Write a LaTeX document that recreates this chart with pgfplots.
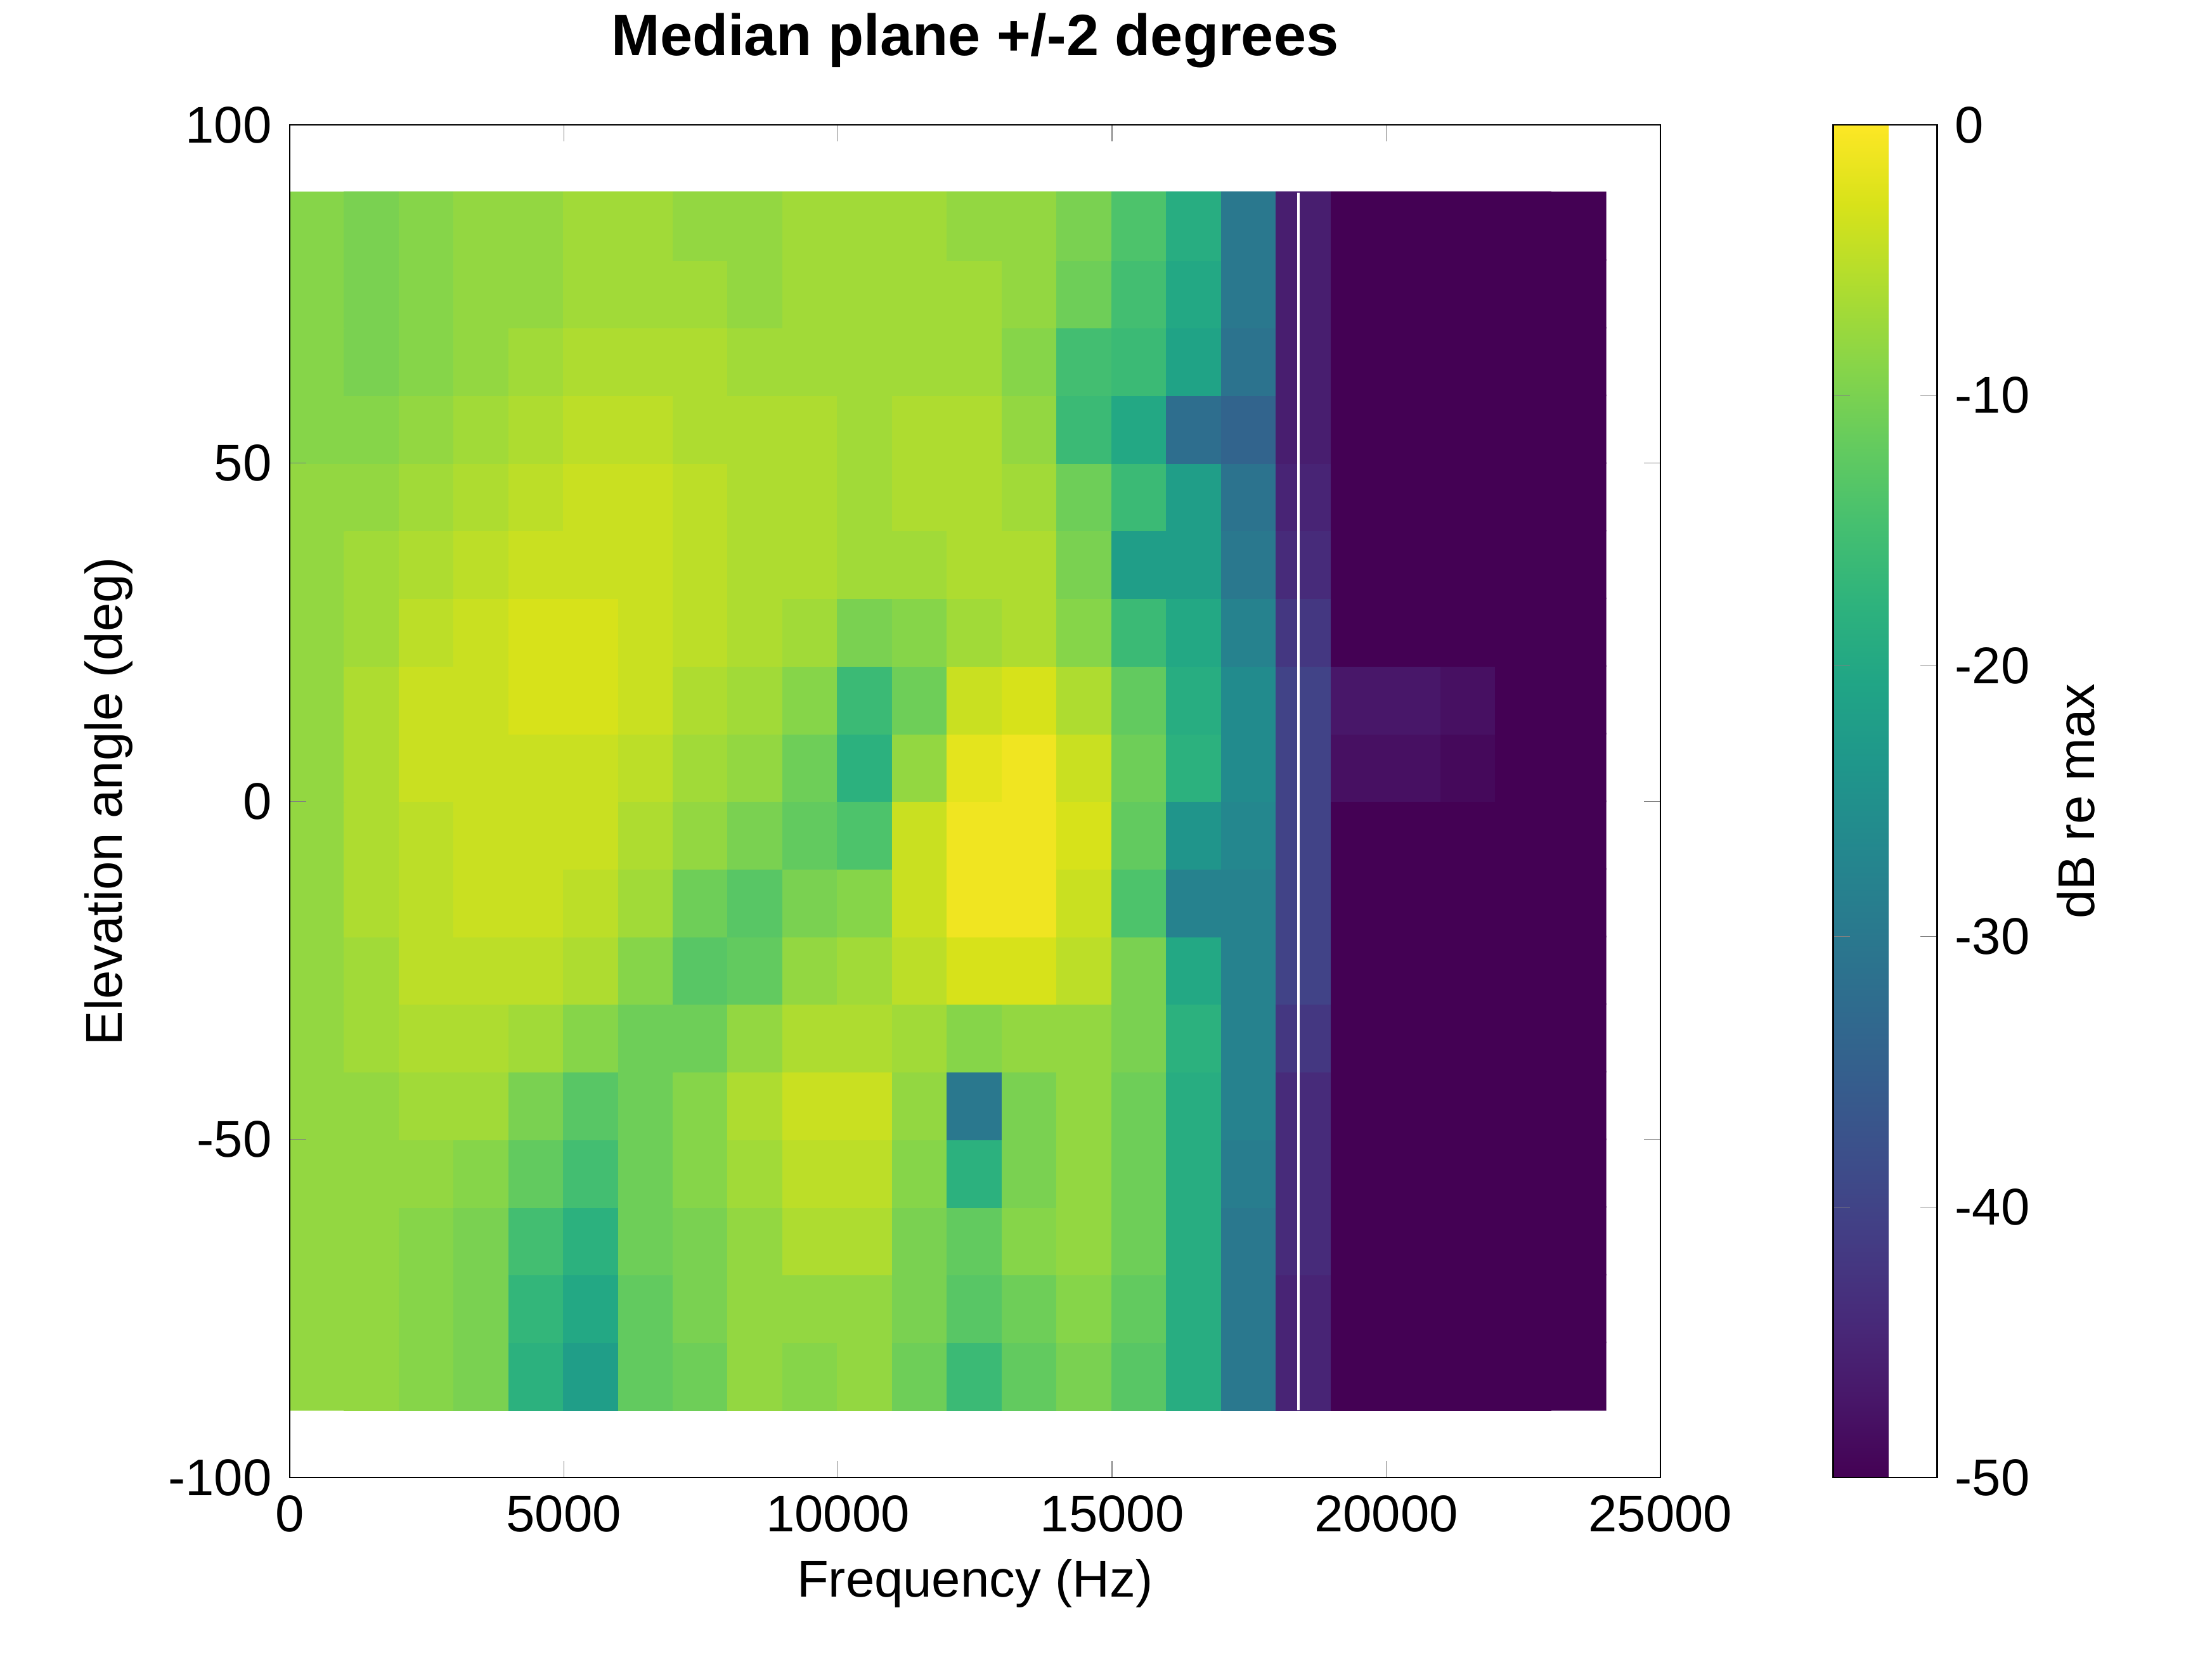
\documentclass[border=0pt]{standalone}
\usepackage{pgfplots}
\pgfplotsset{compat=1.18}
\usepackage{fontspec}
\setmainfont{Liberation Sans}
\usepgfplotslibrary{colormaps}
\begin{document}
\fontsize{13.3}{16}\selectfont
\begin{tikzpicture}
\path[use as bounding box] (-2.62,-1.645) rectangle (17.39,13.37);
\begin{axis}[at={(0,0)},anchor=south west,scale only axis,width=12.40cm,height=12.24cm,
 xmin=0,xmax=25000,ymin=-100,ymax=100,
 xtick={0,5000,10000,15000,20000,25000},ytick={-100,-50,0,50,100},
 scaled x ticks=false,
 /pgf/number format/set thousands separator={},
 /pgf/number format/assume math mode=true,
 tick align=inside, tick pos=both,
 xlabel={Frequency (Hz)}, ylabel={Elevation angle (deg)},
 xlabel style={yshift=2pt}, ylabel style={yshift=0pt},
 title={\fontsize{15}{18}\selectfont\textbf{Median plane +/-2 degrees}}, title style={yshift=4pt},
 colormap name=viridis, point meta min=-50, point meta max=0,
 colorbar, colorbar style={at={(1.126,1)},anchor=north west,width=0.94cm,
   ytick={-50,-40,-30,-20,-10,0}, ylabel={dB re max}, tick align=inside,
   /pgf/number format/assume math mode=true, ylabel style={yshift=2pt}},
 axis on top]
\addplot[matrix plot*, mesh/cols=24, point meta=explicit] table[meta=c] {
x y c
500 -85 -8
1500 -85 -8
2500 -85 -9
3500 -85 -10
4500 -85 -18
5500 -85 -22
6500 -85 -12
7500 -85 -11
8500 -85 -8
9500 -85 -9
10500 -85 -8
11500 -85 -11
12500 -85 -16
13500 -85 -12
14500 -85 -10
15500 -85 -13
16500 -85 -19
17500 -85 -30
18500 -85 -45
19500 -85 -50
20500 -85 -50
21500 -85 -50
22500 -85 -50
23500 -85 -50
500 -75 -8
1500 -75 -8
2500 -75 -9
3500 -75 -10
4500 -75 -17
5500 -75 -20
6500 -75 -12
7500 -75 -10
8500 -75 -8
9500 -75 -8
10500 -75 -8
11500 -75 -10
12500 -75 -13
13500 -75 -11
14500 -75 -9
15500 -75 -12
16500 -75 -19
17500 -75 -30
18500 -75 -45
19500 -75 -50
20500 -75 -50
21500 -75 -50
22500 -75 -50
23500 -75 -50
500 -65 -8
1500 -65 -8
2500 -65 -9
3500 -65 -10
4500 -65 -15
5500 -65 -18
6500 -65 -11
7500 -65 -10
8500 -65 -8
9500 -65 -6
10500 -65 -6
11500 -65 -10
12500 -65 -12
13500 -65 -9
14500 -65 -8
15500 -65 -11
16500 -65 -19
17500 -65 -30
18500 -65 -44
19500 -65 -50
20500 -65 -50
21500 -65 -50
22500 -65 -50
23500 -65 -50
500 -55 -8
1500 -55 -8
2500 -55 -8
3500 -55 -9
4500 -55 -12
5500 -55 -15
6500 -55 -11
7500 -55 -9
8500 -55 -7
9500 -55 -5
10500 -55 -5
11500 -55 -9
12500 -55 -18
13500 -55 -10
14500 -55 -8
15500 -55 -11
16500 -55 -19
17500 -55 -29
18500 -55 -44
19500 -55 -50
20500 -55 -50
21500 -55 -50
22500 -55 -50
23500 -55 -50
500 -45 -8
1500 -45 -8
2500 -45 -7
3500 -45 -7
4500 -45 -10
5500 -45 -13
6500 -45 -11
7500 -45 -9
8500 -45 -6
9500 -45 -4
10500 -45 -4
11500 -45 -8
12500 -45 -30
13500 -45 -10
14500 -45 -8
15500 -45 -11
16500 -45 -19
17500 -45 -28
18500 -45 -44
19500 -45 -50
20500 -45 -50
21500 -45 -50
22500 -45 -50
23500 -45 -50
500 -35 -8
1500 -35 -7
2500 -35 -6
3500 -35 -6
4500 -35 -7
5500 -35 -9
6500 -35 -11
7500 -35 -11
8500 -35 -8
9500 -35 -6
10500 -35 -6
11500 -35 -7
12500 -35 -9
13500 -35 -8
14500 -35 -8
15500 -35 -10
16500 -35 -18
17500 -35 -28
18500 -35 -42
19500 -35 -50
20500 -35 -50
21500 -35 -50
22500 -35 -50
23500 -35 -50
500 -25 -8
1500 -25 -7
2500 -25 -5
3500 -25 -5
4500 -25 -5
5500 -25 -6
6500 -25 -9
7500 -25 -13
8500 -25 -12
9500 -25 -8
10500 -25 -7
11500 -25 -5
12500 -25 -3
13500 -25 -3
14500 -25 -5
15500 -25 -10
16500 -25 -20
17500 -25 -28
18500 -25 -40
19500 -25 -50
20500 -25 -50
21500 -25 -50
22500 -25 -50
23500 -25 -50
500 -15 -8
1500 -15 -6
2500 -15 -5
3500 -15 -4
4500 -15 -4
5500 -15 -5
6500 -15 -7
7500 -15 -11
8500 -15 -13
9500 -15 -10
10500 -15 -9
11500 -15 -4
12500 -15 -1
13500 -15 -1
14500 -15 -4
15500 -15 -14
16500 -15 -28
17500 -15 -28
18500 -15 -40
19500 -15 -50
20500 -15 -50
21500 -15 -50
22500 -15 -50
23500 -15 -50
500 -5 -8
1500 -5 -6
2500 -5 -5
3500 -5 -4
4500 -5 -4
5500 -5 -4
6500 -5 -6
7500 -5 -8
8500 -5 -10
9500 -5 -12
10500 -5 -14
11500 -5 -4
12500 -5 -1
13500 -5 -1
14500 -5 -3
15500 -5 -12
16500 -5 -24
17500 -5 -27
18500 -5 -40
19500 -5 -50
20500 -5 -50
21500 -5 -50
22500 -5 -50
23500 -5 -50
500 5 -8
1500 5 -6
2500 5 -4
3500 5 -4
4500 5 -4
5500 5 -4
6500 5 -5
7500 5 -7
8500 5 -8
9500 5 -11
10500 5 -18
11500 5 -8
12500 5 -2
13500 5 -1
14500 5 -4
15500 5 -11
16500 5 -18
17500 5 -26
18500 5 -40
19500 5 -48
20500 5 -48
21500 5 -49
22500 5 -50
23500 5 -50
500 15 -8
1500 15 -6
2500 15 -4
3500 15 -4
4500 15 -3
5500 15 -3
6500 15 -4
7500 15 -6
8500 15 -7
9500 15 -9
10500 15 -16
11500 15 -11
12500 15 -4
13500 15 -3
14500 15 -6
15500 15 -12
16500 15 -19
17500 15 -26
18500 15 -40
19500 15 -47
20500 15 -47
21500 15 -48
22500 15 -50
23500 15 -50
500 25 -8
1500 25 -7
2500 25 -5
3500 25 -4
4500 25 -3
5500 25 -3
6500 25 -4
7500 25 -5
8500 25 -6
9500 25 -7
10500 25 -10
11500 25 -9
12500 25 -7
13500 25 -6
14500 25 -9
15500 25 -16
16500 25 -20
17500 25 -28
18500 25 -42
19500 25 -50
20500 25 -50
21500 25 -50
22500 25 -50
23500 25 -50
500 35 -8
1500 35 -7
2500 35 -6
3500 35 -5
4500 35 -4
5500 35 -4
6500 35 -4
7500 35 -5
8500 35 -6
9500 35 -6
10500 35 -7
11500 35 -7
12500 35 -6
13500 35 -6
14500 35 -10
15500 35 -22
16500 35 -22
17500 35 -30
18500 35 -44
19500 35 -50
20500 35 -50
21500 35 -50
22500 35 -50
23500 35 -50
500 45 -8
1500 45 -8
2500 45 -7
3500 45 -6
4500 45 -5
5500 45 -4
6500 45 -4
7500 45 -5
8500 45 -6
9500 45 -6
10500 45 -7
11500 45 -6
12500 45 -6
13500 45 -7
14500 45 -11
15500 45 -16
16500 45 -22
17500 45 -31
18500 45 -45
19500 45 -50
20500 45 -50
21500 45 -50
22500 45 -50
23500 45 -50
500 55 -9
1500 55 -9
2500 55 -8
3500 55 -7
4500 55 -6
5500 55 -5
6500 55 -5
7500 55 -6
8500 55 -6
9500 55 -6
10500 55 -7
11500 55 -6
12500 55 -6
13500 55 -8
14500 55 -16
15500 55 -20
16500 55 -32
17500 55 -34
18500 55 -46
19500 55 -50
20500 55 -50
21500 55 -50
22500 55 -50
23500 55 -50
500 65 -9
1500 65 -10
2500 65 -9
3500 65 -8
4500 65 -7
5500 65 -6
6500 65 -6
7500 65 -6
8500 65 -7
9500 65 -7
10500 65 -7
11500 65 -7
12500 65 -7
13500 65 -9
14500 65 -15
15500 65 -16
16500 65 -21
17500 65 -31
18500 65 -46
19500 65 -50
20500 65 -50
21500 65 -50
22500 65 -50
23500 65 -50
500 75 -9
1500 75 -10
2500 75 -9
3500 75 -8
4500 75 -8
5500 75 -7
6500 75 -7
7500 75 -7
8500 75 -8
9500 75 -7
10500 75 -7
11500 75 -7
12500 75 -7
13500 75 -8
14500 75 -11
15500 75 -15
16500 75 -20
17500 75 -30
18500 75 -46
19500 75 -50
20500 75 -50
21500 75 -50
22500 75 -50
23500 75 -50
500 85 -9
1500 85 -10
2500 85 -9
3500 85 -8
4500 85 -8
5500 85 -7
6500 85 -7
7500 85 -8
8500 85 -8
9500 85 -7
10500 85 -7
11500 85 -7
12500 85 -8
13500 85 -8
14500 85 -10
15500 85 -14
16500 85 -19
17500 85 -30
18500 85 -46
19500 85 -50
20500 85 -50
21500 85 -50
22500 85 -50
23500 85 -50
};
\addplot[white, line width=0.6pt] coordinates {(18400,-90) (18400,90)};
\end{axis}
\end{tikzpicture}
\end{document}
